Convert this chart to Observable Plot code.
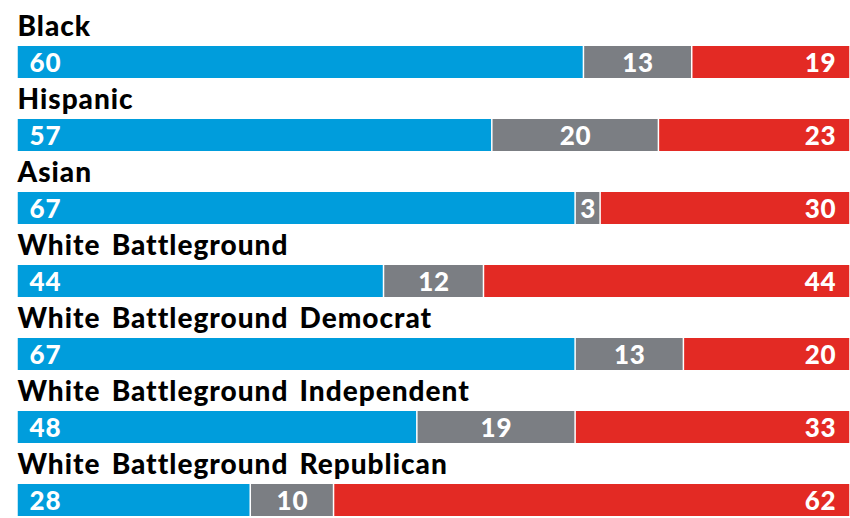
<!DOCTYPE html>
<html>
<head>
<meta charset="utf-8">
<script src="https://cdn.jsdelivr.net/npm/d3@7"></script>
<script src="https://cdn.jsdelivr.net/npm/@observablehq/plot@0.6"></script>
<style>
  html, body { margin: 0; padding: 0; background: #ffffff; }
  #chart svg { display: block; }
</style>
</head>
<body>
<div id="chart"></div>
<script>
const groups = [
  "Black",
  "Hispanic",
  "Asian",
  "White Battleground",
  "White Battleground Democrat",
  "White Battleground Independent",
  "White Battleground Republican"
];
// bar lengths as drawn (Black's blue bar is drawn at 68 though labelled 60)
const democratBar = [68, 57, 67, 44, 67, 48, 28];
const democratLabel = [60, 57, 67, 44, 67, 48, 28];
const undecided = [13, 20, 3, 12, 13, 19, 10];
const republican = [19, 23, 30, 44, 20, 33, 62];
const parties = ["Democrat", "Undecided", "Republican"];
const partyColors = ["#009ddc", "#7b7e83", "#e32a24"];

const rows = groups.flatMap((g, i) => [
  {group: g, party: "Democrat", value: democratBar[i], label: democratLabel[i]},
  {group: g, party: "Undecided", value: undecided[i], label: undecided[i]},
  {group: g, party: "Republican", value: republican[i], label: republican[i]}
]);

const band = 73.5;
const font = "Lato, 'Open Sans', sans-serif";
const numStyle = {fill: "white", fontSize: 26, fontWeight: 900, fontFamily: font, lineAnchor: "bottom", dy: 22.8};

const chart = Plot.plot({
  width: 850,
  height: 518,
  margin: 0,
  style: {background: "white", overflow: "visible"},
  x: {domain: [0, 100], range: [17, 850], axis: null},
  y: {domain: groups, range: [10, 10 + band * groups.length], padding: 0, axis: null},
  color: {domain: parties, range: partyColors},
  marks: [
    Plot.barX(rows, Plot.stackX({
      x: "value", y: "group", fill: "party",
      insetTop: 34, insetBottom: band - 34 - 32.5, insetLeft: 0.75, insetRight: 0.75
    })),
    Plot.text(rows, Plot.filter(d => d.party === "Democrat", Plot.stackX1({
      x: "value", y: "group", text: "label", textAnchor: "start", dx: 12, ...numStyle
    }))),
    Plot.text(rows, Plot.filter(d => d.party === "Undecided", Plot.stackX({
      x: "value", y: "group", text: "label", textAnchor: "middle", ...numStyle
    }))),
    Plot.text(rows, Plot.filter(d => d.party === "Republican", Plot.stackX2({
      x: "value", y: "group", text: "label", textAnchor: "end", dx: -14, ...numStyle
    }))),
    Plot.text(groups, {
      x: 0, y: d => d, text: d => d, textAnchor: "start", lineAnchor: "bottom",
      dy: -12.75, fill: "black", fontSize: 28, fontWeight: 900, fontFamily: font
    })
  ]
});
const textGroups = chart.querySelectorAll('g[aria-label="text"]');
textGroups.forEach((g, i) => {
  if (i === textGroups.length - 1) {
    g.style.letterSpacing = "1px";
    g.style.wordSpacing = "3.5px";
  } else {
    g.style.letterSpacing = "0.8px";
  }
});
document.getElementById("chart").appendChild(chart);
</script>
</body>
</html>
